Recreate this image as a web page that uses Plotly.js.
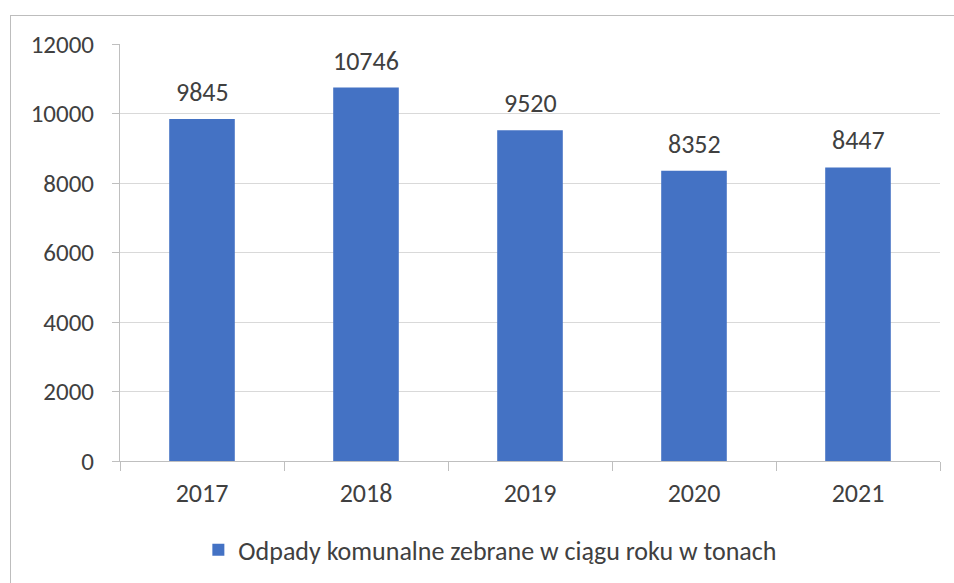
<!DOCTYPE html>
<html><head><meta charset="utf-8">
<script src="https://cdn.plot.ly/plotly-3.0.1.min.js"></script>
<style>
html,body{margin:0;padding:0;background:#fff;}
#wrap{position:relative;width:954px;height:583px;overflow:hidden;}
#frame{position:absolute;left:10px;top:15px;width:1000px;height:1000px;border:1px solid #bdbdbd;box-sizing:border-box;pointer-events:none;z-index:5;}
#chart{position:absolute;left:0;top:0;width:954px;height:583px;}
</style></head>
<body><div id="wrap"><div id="chart"></div><div id="frame"></div></div>
<script>
const years = ['2017','2018','2019','2020','2021'];
const values = [9845, 10746, 9520, 8352, 8447];
const seriesName = 'Odpady komunalne zebrane w ciągu roku w tonach';
const yTicks = [0, 2000, 4000, 6000, 8000, 10000, 12000];

const fontFam = 'Carlito, Calibri, "Open Sans", "Liberation Sans", sans-serif';
const textCol = '#404040';

const trace = {
  type: 'bar', x: years, y: values, name: seriesName,
  marker: {color: '#4472C4'}, showlegend: true, hoverinfo: 'none'
};

const annotations = years.map((yr, i) => ({
  x: i, y: values[i], xref: 'x', yref: 'y', text: String(values[i]),
  showarrow: false, yanchor: 'bottom', yshift: 9,
  font: {family: fontFam, size: 26, color: textCol}
}));

const layout = {
  width: 954, height: 583,
  margin: {l: 120, r: 14, t: 44, b: 122},
  paper_bgcolor: '#fff', plot_bgcolor: '#fff',
  bargap: 0.6,
  font: {family: fontFam, size: 25, color: textCol},
  xaxis: {
    type: 'category', range: [-0.5, years.length - 0.5], autorange: false,
    tickson: 'boundaries', ticks: 'outside', ticklen: 9,
    tickcolor: '#bfbfbf', showline: true, linecolor: '#bfbfbf', linewidth: 1,
    showgrid: false, tickfont: {family: fontFam, size: 26, color: textCol},
    ticklabelstandoff: 9
  },
  yaxis: {
    range: [0, 12000], autorange: false, tickvals: yTicks, ticktext: yTicks.map(String),
    showgrid: true, gridcolor: '#d9d9d9', gridwidth: 1,
    showline: true, linecolor: '#bfbfbf', ticks: 'outside', ticklen: 7,
    tickcolor: '#bfbfbf', zeroline: false,
    tickfont: {family: fontFam, size: 25, color: textCol},
    ticklabelstandoff: 13
  },
  legend: {
    orientation: 'h', xref: 'container', yref: 'container',
    x: 0.514, xanchor: 'center', y: 0.057, yanchor: 'middle',
    font: {family: fontFam, size: 26, color: textCol}
  },
  annotations: annotations,
  showlegend: true
};

Plotly.newPlot('chart', [trace], layout, {staticPlot: true, displayModeBar: false});
</script></body></html>
